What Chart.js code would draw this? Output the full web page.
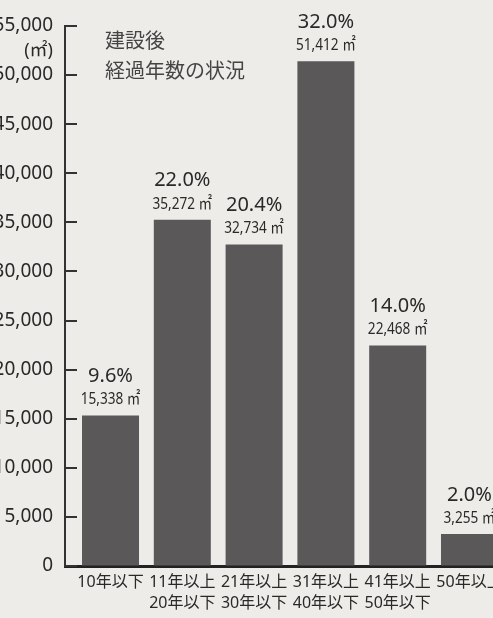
<!DOCTYPE html>
<html>
<head>
<meta charset="utf-8">
<script src="https://cdn.jsdelivr.net/npm/chart.js@4/dist/chart.umd.min.js"></script>
<style>
  html, body { margin: 0; padding: 0; background: #edece8; overflow: hidden; width: 493px; height: 618px; }
  /* the original picture is cropped on both sides, so the canvas is wider than the window */
  #wrap { position: absolute; left: -20px; top: 0; width: 540px; height: 618px; }
</style>
</head>
<body>
<div id="wrap"><canvas id="ageChart"></canvas></div>
<script>
const categories = [
  ['10年以下'],
  ['11年以上', '20年以下'],
  ['21年以上', '30年以下'],
  ['31年以上', '40年以下'],
  ['41年以上', '50年以下'],
  ['50年以上']
];
const areas = [15338, 35272, 32734, 51412, 22468, 3255];
const shares = [9.6, 22.0, 20.4, 32.0, 14.0, 2.0];
const yTicks = [0, 5000, 10000, 15000, 20000, 25000, 30000, 35000, 40000, 45000, 50000, 55000];

const textColor = '#2a2929';
const barColor = '#5a5859';

// y axis ticks point into the plot
const innerTicks = {
  id: 'innerTicks',
  afterDraw(chart) {
    const { ctx, chartArea, scales: { y } } = chart;
    ctx.save();
    ctx.strokeStyle = '#333';
    ctx.lineWidth = 2;
    y.ticks.forEach(t => {
      const py = Math.round(y.getPixelForValue(t.value));
      ctx.beginPath();
      ctx.moveTo(chartArea.left, py);
      ctx.lineTo(chartArea.left + 12, py);
      ctx.stroke();
    });
    ctx.restore();
  }
};

// percentage + area above each bar, title and unit
const barLabels = {
  id: 'barLabels',
  afterDatasetsDraw(chart) {
    const { ctx, chartArea } = chart;
    const meta = chart.getDatasetMeta(0);
    ctx.save();
    ctx.fillStyle = textColor;
    ctx.textAlign = 'center';
    ctx.textBaseline = 'middle';
    meta.data.forEach((bar, i) => {
      ctx.font = '20px "Noto Sans"';
      ctx.fillText(shares[i].toFixed(1) + '%', bar.x, bar.y - 39);
      ctx.save();
      ctx.translate(bar.x, bar.y - 16);
      ctx.scale(0.8, 1);
      ctx.font = '17px "Noto Sans", "Noto Sans CJK JP"';
      ctx.fillText(areas[i].toLocaleString('en-US') + ' ㎡', 0, 0);
      ctx.restore();
    });

    ctx.fillStyle = '#444';
    ctx.textAlign = 'left';
    ctx.font = '20px "Noto Sans CJK JP"';
    ctx.fillText('建設後', chartArea.left + 40, chartArea.top + 14);
    ctx.fillText('経過年数の状況', chartArea.left + 40, chartArea.top + 44);

    ctx.fillStyle = textColor;
    ctx.textAlign = 'right';
    ctx.font = '18px "Noto Sans", "Noto Sans CJK JP"';
    ctx.fillText('(㎡)', chartArea.left - 12, chartArea.top + 25);
    ctx.restore();
  }
};

const ctx = document.getElementById('ageChart').getContext('2d');
new Chart(ctx, {
  type: 'bar',
  data: {
    datasets: [{
      data: areas.map((v, i) => ({ x: i, y: v })),
      backgroundColor: barColor,
      borderWidth: 0,
      categoryPercentage: 1,
      barPercentage: 0.794
    }]
  },
  options: {
    responsive: true,
    maintainAspectRatio: false,
    devicePixelRatio: 1,
    animation: false,
    layout: { padding: { top: 26, right: 5, left: 0, bottom: 0 } },
    plugins: {
      legend: { display: false },
      tooltip: { enabled: false }
    },
    scales: {
      x: {
        type: 'linear',
        offset: false,
        bounds: 'data',
        min: -0.634,
        max: 5.634,
        afterBuildTicks: (scale) => { scale.ticks = categories.map((_, i) => ({ value: i })); },
        afterFit: (scale) => { scale.height = 52; },
        grid: { display: false, drawTicks: false },
        border: { display: true, color: '#222', width: 3 },
        ticks: {
          autoSkip: false,
          maxRotation: 0,
          padding: 6,
          color: textColor,
          font: { family: '"Noto Sans", "Noto Sans CJK JP"', size: 16, lineHeight: 1.3 },
          callback: (value) => categories[value]
        }
      },
      y: {
        min: 0,
        max: 55000,
        afterBuildTicks: (scale) => { scale.ticks = yTicks.map(v => ({ value: v })); },
        afterFit: (scale) => { scale.width = 85; },
        grid: { drawOnChartArea: false, drawTicks: false },
        border: { display: true, color: '#333', width: 2 },
        ticks: {
          padding: 12,
          color: textColor,
          font: { family: '"Noto Sans"', size: 19 },
          callback: (value) => value.toLocaleString('en-US')
        }
      }
    }
  },
  plugins: [innerTicks, barLabels]
});
</script>
</body>
</html>
